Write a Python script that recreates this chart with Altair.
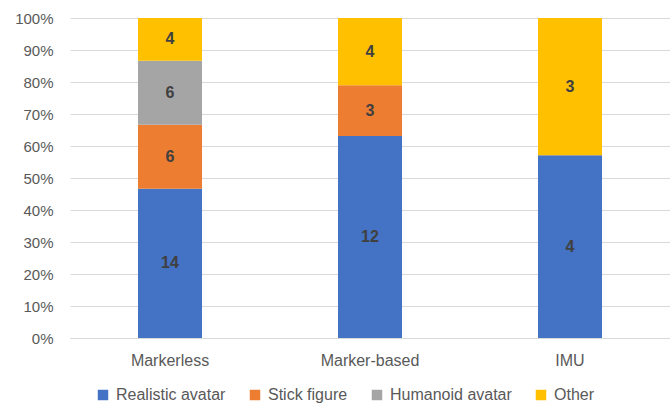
import altair as alt
import pandas as pd

categories = ["Markerless", "Marker-based", "IMU"]
series = ["Realistic avatar", "Stick figure", "Humanoid avatar", "Other"]
realistic = [14, 12, 4]
stick = [6, 3, 0]
humanoid = [6, 0, 0]
other = [4, 4, 3]
colors = ["#4472C4", "#ED7D31", "#A5A5A5", "#FFC000"]
ticks = [0, 0.1, 0.2, 0.3, 0.4, 0.5, 0.6, 0.7, 0.8, 0.9, 1]

rows = []
for si, (name, vals) in enumerate(zip(series, [realistic, stick, humanoid, other])):
    for c, v in zip(categories, vals):
        rows.append({"cat": c, "series": name, "value": v, "order": si})
df = pd.DataFrame(rows)

FONT = "Liberation Sans"

base = (
    alt.Chart(df)
    .transform_filter(alt.datum.value > 0)
    .transform_stack(
        stack="value",
        groupby=["cat"],
        as_=["y0", "y1"],
        offset="normalize",
        sort=[alt.SortField("order", order="ascending")],
    )
    .transform_calculate(mid="(datum.y0 + datum.y1) / 2")
)

yscale = alt.Scale(domain=[0, 1], nice=False)

bars = base.mark_bar().encode(
    x=alt.X(
        "cat:N",
        sort=categories,
        title=None,
        scale=alt.Scale(paddingInner=0.68, paddingOuter=0.34),
        axis=alt.Axis(
            labelAngle=0, labelFontSize=16, labelColor="#595959", labelFont=FONT,
            ticks=False, domain=True, domainColor="#D9D9D9", labelPadding=14, grid=False,
        ),
    ),
    y=alt.Y("y0:Q", title=None, scale=yscale),
    y2="y1:Q",
    color=alt.Color(
        "series:N",
        sort=series,
        scale=alt.Scale(domain=series, range=colors),
        legend=alt.Legend(
            title=None, orient="none", direction="horizontal", legendX=25, legendY=369,
            symbolType="square", symbolSize=110, symbolStrokeWidth=0, labelFontSize=16,
            labelColor="#595959", labelFont=FONT, columnPadding=21, symbolOpacity=1,
            labelOffset=5,
        ),
    ),
)

labels = base.mark_text(
    fontSize=16, fontWeight="bold", color="#404040", font=FONT, baseline="middle"
).encode(
    x=alt.X("cat:N", sort=categories),
    y=alt.Y("mid:Q", scale=yscale),
    text="value:Q",
)

chart = (
    alt.layer(bars, labels)
    .properties(width=600, height=320, autosize=alt.AutoSizeParams(type="none"),
                padding={"left": 70, "top": 18, "right": 0, "bottom": 66})
    .configure_view(stroke=None)
    .configure_axisY(
        values=ticks, format=".0%", labelFontSize=15, labelColor="#595959",
        labelFont=FONT, ticks=False, domain=False, gridColor="#D9D9D9",
        labelPadding=17, labelOverlap=False, tickCount=10,
    )
)

chart.save("out.html", embed_options={"renderer": "svg", "actions": False})
